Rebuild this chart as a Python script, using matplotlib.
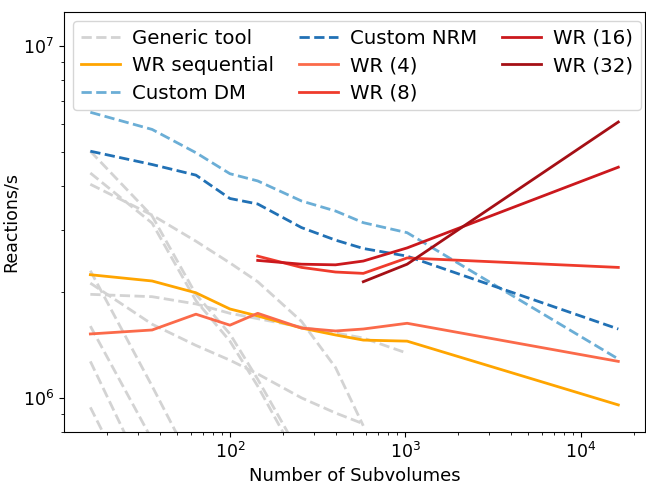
import numpy as np
import matplotlib
matplotlib.use('Agg')
import matplotlib.pyplot as plt

# x values (number of subvolumes)
x_all = [16, 36, 64, 100, 144, 256, 400, 576, 1024, 16384]
x_par = [144, 256, 400, 576, 1024, 16384]
x_32 = [576, 1024, 16384]

# custom implementations
custom_dm = [6.49e6, 5.80e6, 4.98e6, 4.34e6, 4.14e6, 3.63e6, 3.40e6, 3.15e6, 2.95e6, 1.29e6]
custom_nrm = [5.03e6, 4.61e6, 4.30e6, 3.69e6, 3.56e6, 3.05e6, 2.81e6, 2.66e6, 2.53e6, 1.57e6]

# wave-relaxation runs
wr_seq = [2.24e6, 2.15e6, 1.99e6, 1.79e6, 1.71e6, 1.58e6, 1.51e6, 1.46e6, 1.45e6, 0.955e6]
wr_4 = [1.52e6, 1.56e6, 1.73e6, 1.61e6, 1.74e6, 1.58e6, 1.55e6, 1.57e6, 1.63e6, 1.27e6]
wr_8 = [2.53e6, 2.35e6, 2.28e6, 2.26e6, 2.50e6, 2.35e6]
wr_16 = [2.46e6, 2.40e6, 2.39e6, 2.45e6, 2.67e6, 4.53e6]
wr_32 = [2.14e6, 2.40e6, 6.09e6]

# generic tool, several configurations (x values, rates)
generic_x = [
    [16, 36, 64, 100, 144, 256, 400, 576],
    [16, 36, 64, 100, 144, 256, 400, 576],
    [16, 36, 64, 100, 144, 256, 400, 576, 1024],
    [16, 36, 64, 100, 144, 256],
    [16, 36, 64, 100, 144, 256],
    [16, 36, 64],
    [16, 36],
    [16, 36],
    [16, 36],
]
generic_y = [
    [4.05e6, 3.31e6, 2.79e6, 2.42e6, 2.14e6, 1.65e6, 1.22e6, 0.833e6],
    [2.12e6, 1.62e6, 1.41e6, 1.28e6, 1.17e6, 1.00e6, 0.906e6, 0.844e6],
    [1.97e6, 1.94e6, 1.85e6, 1.74e6, 1.68e6, 1.59e6, 1.53e6, 1.48e6, 1.34e6],
    [5.03e6, 3.29e6, 1.97e6, 1.52e6, 1.13e6, 0.68e6],
    [4.36e6, 3.14e6, 1.89e6, 1.45e6, 1.08e6, 0.64e6],
    [2.30e6, 1.08e6, 0.62e6],
    [1.60e6, 0.76e6],
    [1.27e6, 0.545e6],
    [0.94e6, 0.42e6],
]

fig, ax = plt.subplots(figsize=(6.46, 4.87), dpi=100)
fig.subplots_adjust(left=0.099, right=0.998, top=0.975, bottom=0.113)

lw = 2.0
for i, (gx, gy) in enumerate(zip(generic_x, generic_y)):
    ax.plot(gx, gy, '--', color='lightgray', lw=lw,
            label='Generic tool' if i == 0 else None)

ax.plot(x_all, wr_seq, color='orange', lw=lw, label='WR sequential')
ax.plot(x_all, custom_dm, '--', color='#6baed6', lw=lw, label='Custom DM')
ax.plot(x_all, custom_nrm, '--', color='#2171b5', lw=lw, label='Custom NRM')
ax.plot(x_all, wr_4, color='#fb6a4a', lw=lw, label='WR (4)')
ax.plot(x_par, wr_8, color='#ef3b2c', lw=lw, label='WR (8)')
ax.plot(x_par, wr_16, color='#cb181d', lw=lw, label='WR (16)')
ax.plot(x_32, wr_32, color='#a50f15', lw=lw, label='WR (32)')

ax.set_xscale('log')
ax.set_yscale('log')
ax.set_ylim(8e5, 1.25e7)
ax.set_xlabel('Number of Subvolumes', fontsize=13)
ax.set_ylabel('Reactions/s', fontsize=12.5, labelpad=2)
ax.tick_params(labelsize=12.5)
ax.legend(ncol=3, loc='upper left', fontsize=14.2, columnspacing=1.25,
          labelspacing=0.42, handletextpad=0.6, borderaxespad=0.45)

plt.savefig('out.png')
